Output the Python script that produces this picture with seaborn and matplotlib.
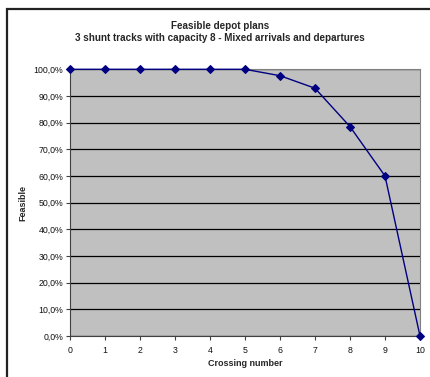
import matplotlib
matplotlib.use("Agg")
import matplotlib.pyplot as plt
import matplotlib.ticker as mticker
from matplotlib.patches import Rectangle
import seaborn as sns
import pandas as pd

crossing = [0, 1, 2, 3, 4, 5, 6, 7, 8, 9, 10]
feasible = [1.0, 1.0, 1.0, 1.0, 1.0, 1.0, 0.976, 0.929, 0.785, 0.60, 0.0]
y_ticks = [0.0, 0.1, 0.2, 0.3, 0.4, 0.5, 0.6, 0.7, 0.8, 0.9, 1.0]

df = pd.DataFrame({"Crossing number": crossing, "Feasible": feasible})

sns.set_theme(style="white")
plt.rcParams["font.family"] = ["Liberation Sans", "DejaVu Sans"]

fig = plt.figure(figsize=(4.30, 3.77), dpi=100)
fig.patch.set_facecolor("white")

# chart frame (left and top edges visible)
fig.add_artist(Rectangle((7 / 430, -0.1), 1.2, (377 - 9) / 377 + 0.1,
                         transform=fig.transFigure, fill=False,
                         edgecolor="#222222", linewidth=1.6))

ax = fig.add_axes([70 / 430, 41 / 377, 350 / 430, 266.7 / 377])
ax.set_facecolor("#C0C0C0")

sns.lineplot(data=df, x="Crossing number", y="Feasible", ax=ax,
             color="#000080", linewidth=1.0, marker="D", markersize=3.6,
             markeredgecolor="#000080", markerfacecolor="#000080",
             clip_on=False, zorder=5)

ax.set_xlim(0, 10)
ax.set_ylim(0, 1)
ax.set_xticks(crossing)
ax.set_yticks(y_ticks)
ax.yaxis.set_major_formatter(mticker.FuncFormatter(
    lambda v, _: f"{v * 100:.1f}%".replace(".", ",")))
ax.grid(axis="y", color="black", linewidth=0.9)
ax.set_axisbelow(True)

for side in ("top", "right"):
    ax.spines[side].set_color("#808080")
    ax.spines[side].set_linewidth(0.8)
for side in ("left", "bottom"):
    ax.spines[side].set_color("#404040")
    ax.spines[side].set_linewidth(0.8)

ax.tick_params(axis="both", which="major", direction="out", length=3,
               width=0.8, color="#404040", labelsize=6.3, pad=2,
               labelcolor="#111111")
ax.tick_params(axis="x", bottom=True, pad=4)
ax.tick_params(axis="y", left=True)

ax.set_xlabel("Crossing number", fontsize=6.5, fontweight="bold", labelpad=3)
ax.set_ylabel("Feasible", fontsize=6.5, fontweight="bold", labelpad=4)

fig.text(220 / 430, 1 - 26 / 377, "Feasible depot plans", ha="center",
         va="center", fontsize=7.1, fontweight="bold")
fig.text(220 / 430, 1 - 38 / 377,
         "3 shunt tracks with capacity 8 - Mixed arrivals and departures",
         ha="center", va="center", fontsize=7.1, fontweight="bold")

fig.savefig("out.png", dpi=100)
